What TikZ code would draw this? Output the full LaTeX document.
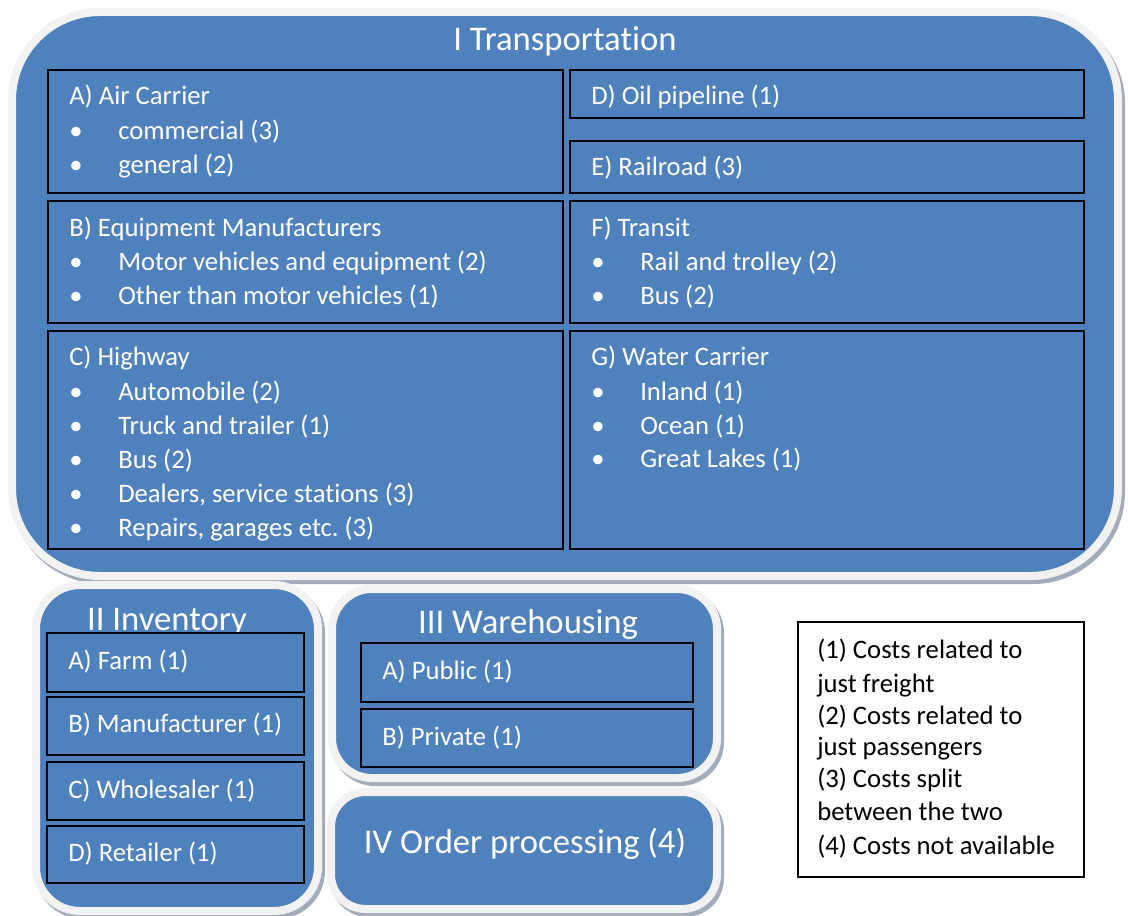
\documentclass[tikz,border=0pt]{standalone}
\usepackage{fontspec}
\setmainfont{Carlito}[Ligatures={NoCommon,NoRare,NoDiscretionary}]
\frenchspacing
\definecolor{panelblue}{HTML}{4F81BD}
\definecolor{rimgray}{HTML}{F2F2F2}
\definecolor{shadowgray}{HTML}{A3ACBA}
\newcommand{\bulletline}[1]{\makebox[36.75pt][l]{\textbullet}#1}
\tikzset{
  panel/.style={fill=panelblue, draw=rimgray, line width=6pt},
  panelshadow/.style={draw=shadowgray, fill=shadowgray, line width=6pt, shift={(3,4)}},
  itembox/.style={draw=black, fill=panelblue, line width=1.2pt},
  txt/.style={anchor=base west, inner sep=0pt, text=white, font=\fontsize{20}{24}\selectfont},
  head/.style={anchor=base, inner sep=0pt, text=white, font=\fontsize{26}{30}\selectfont},
  note/.style={anchor=base west, inner sep=0pt, text=black, font=\fontsize{20}{24}\selectfont},
}
\begin{document}
\begin{tikzpicture}[x=0.75pt,y=-0.75pt]
\useasboundingbox (0,0) rectangle (1128,916);
\fill[white] (0,0) rectangle (1128,916);

% ---- I Transportation ----
\path[panelshadow, rounded corners=66pt] (12,12) rectangle (1118,576);
\path[panel, rounded corners=66pt] (12,12) rectangle (1118,576);
\node[head] (tT) at (565,51) {I Transportation};

\path[itembox] (48,70) rectangle (563,193);
\path[itembox] (48,201) rectangle (563,323);
\path[itembox] (48,331) rectangle (563,549);
\path[itembox] (570,70) rectangle (1084,118);
\path[itembox] (570,141) rectangle (1084,193);
\path[itembox] (570,201) rectangle (1084,323);
\path[itembox] (570,331) rectangle (1084,549);

\node[txt] (a0) at (69,105) {A) Air Carrier};
\node[txt] (a1) at (69,140) {\bulletline{commercial (3)}};
\node[txt] (a2) at (69,174) {\bulletline{general (2)}};

\node[txt] (b0) at (69,237) {B) Equipment Manufacturers};
\node[txt] (b1) at (69,271) {\bulletline{Motor vehicles and equipment (2)}};
\node[txt] (b2) at (69,305) {\bulletline{Other than motor vehicles (1)}};

\node[txt] (c0) at (69,365) {C) Highway};
\node[txt] (c1) at (69,400) {\bulletline{Automobile (2)}};
\node[txt] (c2) at (69,434) {\bulletline{Truck and trailer (1)}};
\node[txt] (c3) at (69,468) {\bulletline{Bus (2)}};
\node[txt] (c4) at (69,502) {\bulletline{Dealers, service stations (3)}};
\node[txt] (c5) at (69,536) {\bulletline{Repairs, garages etc. (3)}};

\node[txt] (d0) at (591,105) {D) Oil pipeline (1)};
\node[txt] (e0) at (591,176) {E) Railroad (3)};

\node[txt] (f0) at (591,237) {F) Transit};
\node[txt] (f1) at (591,271) {\bulletline{Rail and trolley (2)}};
\node[txt] (f2) at (591,305) {\bulletline{Bus (2)}};

\node[txt] (g0) at (591,365) {G) Water Carrier};
\node[txt] (g1) at (591,400) {\bulletline{Inland (1)}};
\node[txt] (g2) at (591,434) {\bulletline{Ocean (1)}};
\node[txt] (g3) at (591,467) {\bulletline{Great Lakes (1)}};

% ---- II Inventory ----
\path[panelshadow, rounded corners=33pt] (36,585) rectangle (318,911);
\path[panel, rounded corners=33pt] (36,585) rectangle (318,911);
\node[head] (tI) at (167,630) {II Inventory};
\path[itembox] (47,633) rectangle (304,692);
\path[itembox] (47,697) rectangle (304,755);
\path[itembox] (47,762) rectangle (304,820);
\path[itembox] (47,826) rectangle (304,883);
\node[txt] (i1) at (68,669) {A) Farm (1)};
\node[txt] (i2) at (68,732) {B) Manufacturer (1)};
\node[txt] (i3) at (68,798) {C) Wholesaler (1)};
\node[txt] (i4) at (68,861) {D) Retailer (1)};

% ---- III Warehousing ----
\path[panelshadow, rounded corners=30pt] (332,589) rectangle (717,778);
\path[panel, rounded corners=30pt] (332,589) rectangle (717,778);
\node[head] (tW) at (528,633) {III Warehousing};
\path[itembox] (361,643) rectangle (693,702);
\path[itembox] (361,709) rectangle (693,767);
\node[txt] (w1) at (382,679) {A) Public (1)};
\node[txt] (w2) at (382,745) {B) Private (1)};

% ---- IV Order processing ----
\path[panelshadow, rounded corners=26pt] (331,792) rectangle (717,909);
\path[panel, rounded corners=26pt] (331,792) rectangle (717,909);
\node[head] (tO) at (525,853) {IV Order processing (4)};

% ---- key ----
\path[draw=black, line width=1.1pt] (798,622) rectangle (1084,877);
\node[note] (k1) at (817,658) {(1) Costs related to};
\node[note] (k2) at (817,692) {just freight};
\node[note] (k3) at (817,724) {(2) Costs related to};
\node[note] (k4) at (817,755) {just passengers};
\node[note] (k5) at (817,787) {(3) Costs split};
\node[note] (k6) at (817,820) {between the two};
\node[note] (k7) at (817,854) {(4) Costs not available};
\end{tikzpicture}
\end{document}
